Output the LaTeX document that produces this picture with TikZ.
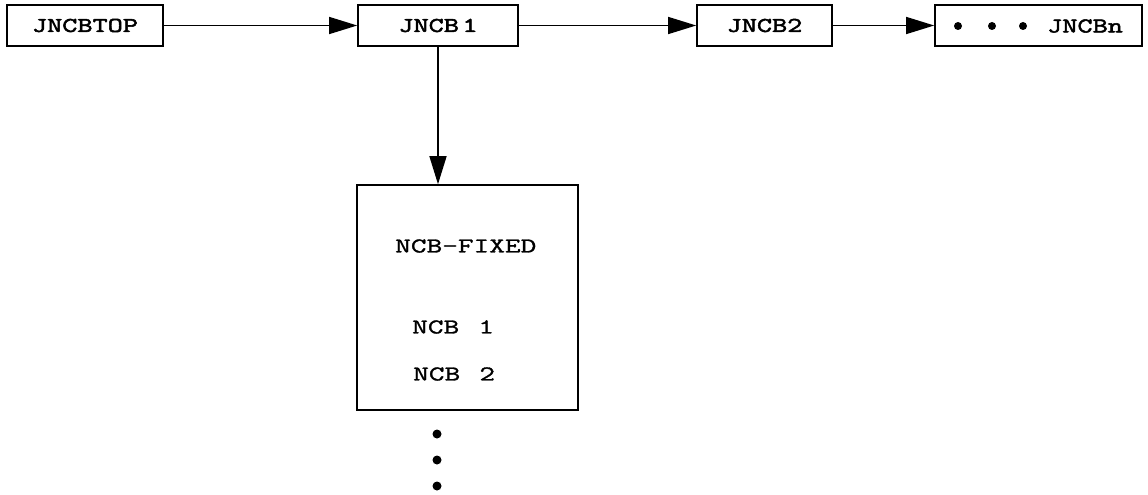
\documentclass[tikz,border=0pt]{standalone}
\usepackage{fontspec}
\setmainfont{Liberation Serif}
\newfontfamily\boxbold[FakeStretch=1.4,FakeBold=2.5]{Latin Modern Mono}
\newfontfamily\boxreg[FakeStretch=1.45,FakeBold=1.4]{Latin Modern Mono}
\usetikzlibrary{arrows.meta}
\tikzset{
  lbl/.style={draw=black, line width=1.6pt, rectangle, inner sep=0pt, minimum height=41pt, font=\fontsize{21}{24}\boxbold},
  conn/.style={line width=1.4pt, -{Triangle[length=28pt,width=17pt]}},
  inner/.style={font=\fontsize{21}{24}\boxreg, inner sep=0pt, anchor=west},
  dot/.style={circle, fill=black, inner sep=0pt, minimum size=9pt}
}
\begin{document}
\begin{tikzpicture}[x=1pt,y=-1pt]
\useasboundingbox (0,0) rectangle (1148,495);
\node[lbl, minimum width=156pt] (top) at (85,25.5) {JNCBTOP};
\node[lbl, minimum width=160pt] (j1) at (438,25.5) {JNCB\,1};
\node[lbl, minimum width=135pt] (j2) at (764.5,25.5) {JNCB2};
\node[lbl, minimum width=207pt] (jn) at (1038.5,25.5) {};
\node[dot, minimum size=8pt] (d1) at (958,26) {};
\node[dot, minimum size=8pt] (d2) at (992,26) {};
\node[dot, minimum size=8pt] (d3) at (1023,26) {};
\node[font=\fontsize{21}{24}\boxbold, inner sep=0pt, anchor=west] (jnt) at (1047,26) {JNCBn};
\draw[conn] (top) -- (j1);
\draw[conn] (j1) -- (j2);
\draw[conn] (j2) -- (jn);
\node[draw=black, line width=1.6pt, rectangle, inner sep=0pt, minimum width=221pt, minimum height=225pt] (fixed) at (467.5,297.5) {};
\draw[conn] (j1.south) -- (j1.south |- fixed.north);
\node[inner] (nf) at (395,246) {NCB-FIXED};
\node[inner] (n1) at (412,327) {NCB \,1};
\node[inner] (n2) at (413,374) {NCB \,2};
\node[dot] (v1) at (437,434) {};
\node[dot] (v2) at (437,460) {};
\node[dot] (v3) at (437,486) {};
\end{tikzpicture}
\end{document}
